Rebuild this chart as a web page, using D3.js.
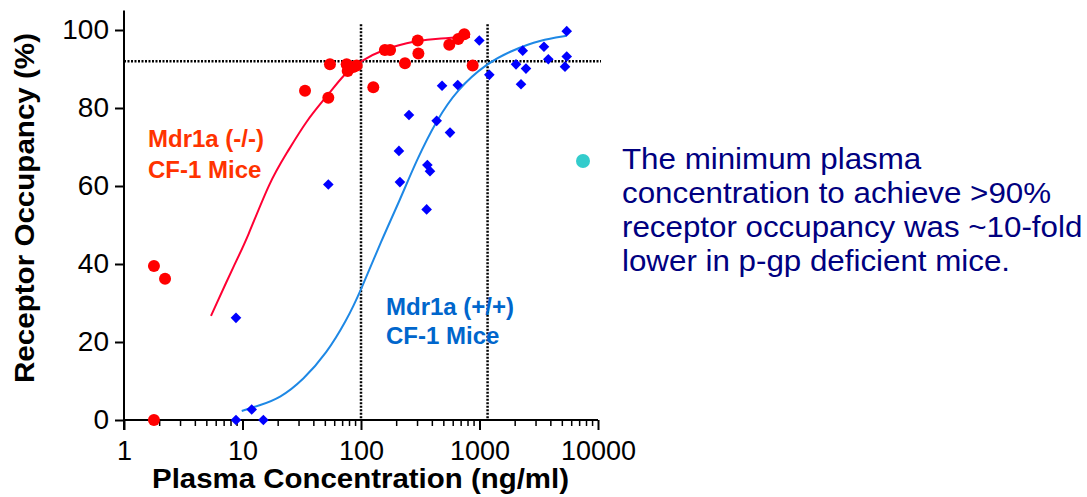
<!DOCTYPE html>
<html>
<head>
<meta charset="utf-8">
<script src="https://cdn.jsdelivr.net/npm/d3@7"></script>
<style>
  html, body { margin: 0; padding: 0; background: #fff; }
  svg { display: block; font-family: "Liberation Sans", Arial, sans-serif; }
</style>
</head>
<body>
<svg id="chart" width="1087" height="497"></svg>
<script>
// ---- Data ----
const knockoutConc = [1.79, 1.79, 2.22, 33.7, 53, 54.7, 75.7, 77.2, 86, 92, 127, 159, 176, 235, 301, 305, 556, 662, 744, 876];
const knockoutOcc  = [0, 39.5, 36.2, 84.4, 82.6, 91.2, 91.2, 89.5, 90.5, 90.9, 85.3, 94.9, 94.9, 91.5, 97.3, 94.0, 96.2, 97.7, 98.9, 90.9];

const wildConc = [8.81, 15, 11.96, 8.81, 53, 209, 213, 254, 363, 382, 358, 435, 483, 564, 655, 996, 1210, 2033, 2240, 2316, 2467, 3500, 3807, 5446, 5446, 5266];
const wildOcc  = [0, 0, 2.7, 26.2, 60.4, 69, 61, 78.2, 65.4, 63.8, 54, 76.7, 85.7, 73.7, 85.9, 97.3, 88.5, 91.2, 86.1, 94.7, 90.1, 95.7, 92.5, 99.7, 93.2, 90.6];

const knockoutFitConc = [5.42, 8.64, 10.85, 17.1, 23.6, 34.8, 51.3, 73.3, 98, 153, 295, 464, 832];
const knockoutFitOcc  = [26.7, 40.2, 46.2, 61.5, 68.4, 76.9, 82.9, 89.0, 91.9, 95.1, 97.3, 97.9, 98.2];

const wildFitConc = [9.85, 14.05, 20.7, 32.6, 51.3, 75.7, 98, 149.5, 213, 295, 435, 642, 1150, 1928, 3240, 5446];
const wildFitOcc  = [2.3, 3.8, 5.6, 10.3, 17.1, 25.6, 32.7, 46.2, 56.4, 66.7, 76.9, 84.6, 91.5, 94.9, 97.4, 98.5];

const refConc = [100, 1170];   // vertical dotted lines
const refOcc = [92];            // horizontal dotted line

const xTickValues = [1, 10, 100, 1000, 10000];
const yTickValues = [0, 20, 40, 60, 80, 100];

const xTitle = "Plasma Concentration (ng/ml)";
const yTitle = "Receptor Occupancy (%)";
const knockoutLabel = ["Mdr1a (-/-)", "CF-1 Mice"];
const wildLabel = ["Mdr1a (+/+)", "CF-1 Mice"];
const noteLines = ["The minimum plasma", "concentration to achieve >90%", "receptor occupancy was ~10-fold", "lower in p-gp deficient mice."];

// ---- Drawing ----
const svg = d3.select("#chart");
const x = d3.scaleLog().domain([1, 10000]).range([124, 598]);
const y = d3.scaleLinear().domain([0, 105]).range([420, 10.5]);

const red = "#ff0000", redLine = "#ff0033", redText = "#ff3300";
const blue = "#0000ff", blueLine = "#1e88e5", blueText = "#0066cc";
const FONT = "Liberation Sans, Arial, sans-serif";

// reference dotted lines
const g = svg.append("g");
g.selectAll("line.vref").data(refConc).enter().append("line")
  .attr("x1", d => x(d)).attr("x2", d => x(d))
  .attr("y1", y(101.5)).attr("y2", y(0))
  .attr("stroke", "#000").attr("stroke-width", 2.5).attr("stroke-dasharray", "2,1.5");
g.selectAll("line.href").data(refOcc).enter().append("line")
  .attr("x1", x(1)).attr("x2", x(10000) + 3)
  .attr("y1", d => y(d)).attr("y2", d => y(d))
  .attr("stroke", "#000").attr("stroke-width", 2.5).attr("stroke-dasharray", "2,1.5");

// fit curves
const line = d3.line().x(d => x(d[0])).y(d => y(d[1])).curve(d3.curveBasis);
svg.append("path").datum(d3.zip(knockoutFitConc, knockoutFitOcc))
  .attr("d", line).attr("fill", "none").attr("stroke", redLine).attr("stroke-width", 2);
svg.append("path").datum(d3.zip(wildFitConc, wildFitOcc))
  .attr("d", line).attr("fill", "none").attr("stroke", blueLine).attr("stroke-width", 2);

// axes
const xAxis = d3.axisBottom(x).tickValues(xTickValues).tickFormat(d3.format("d")).tickSize(10).tickPadding(11);
const xg = svg.append("g").attr("transform", `translate(0,${y(0)})`).call(xAxis);
xg.select(".domain").attr("stroke-width", 2).attr("d", `M${x(1)},0H${x(10000)}`);
xg.selectAll(".tick line").attr("stroke-width", 2);
xg.selectAll("text").attr("font-size", 27).attr("fill", "#000").attr("font-family", FONT);
// minor ticks
const minor = [];
for (let dec = 1; dec < 10000; dec *= 10) for (let k = 2; k <= 9; k++) minor.push(dec * k);
xg.selectAll("line.minor").data(minor).enter().append("line")
  .attr("x1", d => x(d)).attr("x2", d => x(d)).attr("y1", 0).attr("y2", 6)
  .attr("stroke", "#000").attr("stroke-width", 1.5);

const yAxis = d3.axisLeft(y).tickValues(yTickValues).tickSize(9).tickPadding(6);
const yg = svg.append("g").attr("transform", `translate(${x(1)},0)`).call(yAxis);
yg.select(".domain").attr("stroke-width", 2).attr("d", `M0,${y(105)}V${y(0) + 10}`);
yg.selectAll(".tick line").attr("stroke-width", 2);
yg.selectAll("text").attr("font-size", 28).attr("fill", "#000").attr("font-family", FONT);

// points
svg.append("g").selectAll("circle").data(d3.zip(knockoutConc, knockoutOcc)).enter().append("circle")
  .attr("cx", d => x(d[0])).attr("cy", d => y(d[1])).attr("r", 6).attr("fill", red);
svg.append("g").selectAll("path").data(d3.zip(wildConc, wildOcc)).enter().append("path")
  .attr("d", d3.symbol().type(d3.symbolDiamond2).size(72))
  .attr("transform", d => `translate(${x(d[0])},${y(d[1])})`)
  .attr("fill", blue);

// titles
svg.append("text").attr("x", 152).attr("y", 488)
  .attr("font-size", 27).attr("font-weight", "bold")
  .attr("textLength", 417).attr("lengthAdjust", "spacingAndGlyphs").text(xTitle);
svg.append("text").attr("transform", "translate(34,383) rotate(-90)")
  .attr("font-size", 27).attr("font-weight", "bold")
  .attr("textLength", 350).attr("lengthAdjust", "spacingAndGlyphs").text(yTitle);

// series labels
svg.append("g").selectAll("text").data(knockoutLabel).enter().append("text")
  .attr("x", 148).attr("y", (d, i) => 147 + i * 31).attr("font-size", 24).attr("font-weight", "bold")
  .attr("fill", redText).text(d => d);
svg.append("g").selectAll("text").data(wildLabel).enter().append("text")
  .attr("x", 386).attr("y", (d, i) => 315 + i * 29).attr("font-size", 24).attr("font-weight", "bold")
  .attr("fill", blueText).text(d => d);

// note
svg.append("circle").attr("cx", 583).attr("cy", 161).attr("r", 7).attr("fill", "#33cccc");
svg.append("g").attr("transform", "translate(622,0) scale(1.08,1)")
  .selectAll("text").data(noteLines).enter().append("text")
  .attr("x", 0).attr("y", (d, i) => 169 + i * 34).attr("font-size", 29)
  .attr("fill", "#000080").text(d => d);
</script>
</body>
</html>
